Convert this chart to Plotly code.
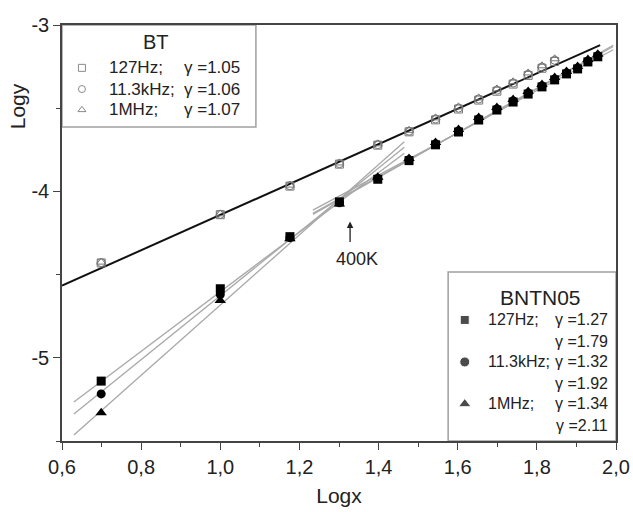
import plotly.graph_objects as go

# ---------------- data ----------------
x_bt = [0.699, 1.0, 1.176, 1.301, 1.398, 1.477, 1.544, 1.602, 1.653, 1.699, 1.740, 1.778, 1.813, 1.845]
y_bt_127 = [-4.430, -4.140, -3.968, -3.836, -3.722, -3.642, -3.570, -3.505, -3.451, -3.398, -3.355, -3.303, -3.260, -3.219]
y_bt_11k = [-4.428, -4.138, -3.966, -3.833, -3.719, -3.638, -3.565, -3.500, -3.445, -3.392, -3.349, -3.297, -3.253, -3.212]
y_bt_1M = [-4.425, -4.135, -3.962, -3.829, -3.714, -3.633, -3.558, -3.492, -3.438, -3.384, -3.341, -3.288, -3.245, -3.203]

x_bn = [0.699, 1.0, 1.176, 1.301, 1.398, 1.477, 1.544, 1.602, 1.653, 1.699, 1.740, 1.778, 1.813, 1.845, 1.875, 1.903, 1.929, 1.954]
y_bn_127 = [-5.140, -4.585, -4.272, -4.063, -3.927, -3.815, -3.720, -3.643, -3.571, -3.511, -3.463, -3.415, -3.372, -3.330, -3.294, -3.264, -3.222, -3.191]
y_bn_11k = [-5.217, -4.620, -4.278, -4.068, -3.922, -3.810, -3.714, -3.637, -3.565, -3.505, -3.457, -3.409, -3.366, -3.324, -3.288, -3.258, -3.216, -3.185]
y_bn_1M = [-5.330, -4.655, -4.285, -4.075, -3.915, -3.802, -3.706, -3.628, -3.556, -3.496, -3.448, -3.400, -3.357, -3.315, -3.279, -3.249, -3.207, -3.176]

# fit lines (slope gamma)
bt_fit_x = [0.6, 1.96]
bt_fit_slope = 1.063
bt_fit_icpt = -5.204

low_fit_x = [0.63, 1.465]
low_gammas = [1.79, 1.92, 2.11]
low_icpts = [-6.393, -6.547, -6.793]

high_fit_x = [1.234, 1.993]
high_gammas = [1.27, 1.32, 1.34]
high_anchor = (1.6, -3.648)

x_ticks = [0.6, 0.8, 1.0, 1.2, 1.4, 1.6, 1.8, 2.0]
x_ticktext = ["0,6", "0,8", "1,0", "1,2", "1,4", "1,6", "1,8", "2,0"]
y_ticks = [-5, -4, -3]
y_ticktext = ["-5", "-4", "-3"]

bt_names = ["127Hz;", "11.3kHz;", "1MHz;"]
bt_gam = ["\u03b3 =1.05", "\u03b3 =1.06", "\u03b3 =1.07"]
bn_names = ["127Hz;", "11.3kHz;", "1MHz;"]
bn_gam = ["\u03b3 =1.27", "\u03b3 =1.79", "\u03b3 =1.32", "\u03b3 =1.92", "\u03b3 =1.34", "\u03b3 =2.11"]

FONT = "Arial, Liberation Sans, sans-serif"
TXT = "#222222"

fig = go.Figure()

# fit lines
for g, c in zip(low_gammas, low_icpts):
    fig.add_trace(go.Scatter(x=low_fit_x, y=[c + g * xx for xx in low_fit_x], mode="lines",
                             line=dict(color="#a8a8a8", width=1.3), showlegend=False, hoverinfo="skip"))
for g in high_gammas:
    fig.add_trace(go.Scatter(x=high_fit_x, y=[high_anchor[1] + g * (xx - high_anchor[0]) for xx in high_fit_x],
                             mode="lines", line=dict(color="#a8a8a8", width=1.3), showlegend=False, hoverinfo="skip"))
fig.add_trace(go.Scatter(x=bt_fit_x, y=[bt_fit_icpt + bt_fit_slope * xx for xx in bt_fit_x], mode="lines",
                         line=dict(color="#111111", width=2), showlegend=False, hoverinfo="skip"))

# BT open symbols
open_col = "#777777"
for yy, sym in [(y_bt_127, "square-open"), (y_bt_11k, "circle-open"), (y_bt_1M, "triangle-up-open")]:
    fig.add_trace(go.Scatter(x=x_bt, y=yy, mode="markers",
                             marker=dict(symbol=sym, size=8, color=open_col, line=dict(width=1, color=open_col)),
                             showlegend=False))

# BNTN05 filled symbols
for yy, sym, sz in [(y_bn_127, "square", 9), (y_bn_11k, "circle", 9), (y_bn_1M, "triangle-up", 10)]:
    fig.add_trace(go.Scatter(x=x_bn, y=yy, mode="markers",
                             marker=dict(symbol=sym, size=sz, color="#000000", line=dict(width=0)),
                             showlegend=False))

# ---------- legend boxes (paper coords) ----------
bt_box = dict(x0=0.0, x1=0.350, y0=0.755, y1=1.0)
bn_box = dict(x0=0.697, x1=1.0, y0=0.0, y1=0.406)
for b in (bt_box, bn_box):
    fig.add_shape(type="rect", xref="paper", yref="paper", **b,
                  line=dict(color="#a0a0a0", width=1.5), fillcolor="white", layer="below")

bt_rows = [0.897, 0.846, 0.796]
bn_rows = [0.291, 0.240, 0.190, 0.139, 0.089, 0.038]

# legend symbols on overlay axes (0..1 == plot area)
fig.add_trace(go.Scatter(x=[0.036] * 3, y=bt_rows, xaxis="x2", yaxis="y2", mode="markers",
                         marker=dict(symbol=["square-open", "circle-open", "triangle-up-open"], size=7,
                                     color="#8a8a8a", line=dict(width=1, color="#8a8a8a")),
                         showlegend=False, hoverinfo="skip", cliponaxis=False))
fig.add_trace(go.Scatter(x=[0.727] * 3, y=[bn_rows[0], bn_rows[2], bn_rows[4]], xaxis="x2", yaxis="y2",
                         mode="markers",
                         marker=dict(symbol=["square", "circle", "triangle-up"], size=[9, 10, 11], color="#000000"),
                         showlegend=False, hoverinfo="skip", cliponaxis=False))


def txt(text, x, y, size, xanchor="center", **kw):
    d = dict(text=text, x=x, y=y, xref="paper", yref="paper", xanchor=xanchor, yanchor="middle",
             showarrow=False, font=dict(size=size, color=TXT, family=FONT))
    d.update(kw)
    return d


ann = []
ann.append(txt("BT", 0.170, 0.959, 20))
for i in range(3):
    ann.append(txt(bt_names[i], 0.081, bt_rows[i], 17, "left"))
    ann.append(txt(bt_gam[i], 0.325, bt_rows[i], 17, "right"))
ann.append(txt("BNTN05", 0.863, 0.346, 21))
for i in range(3):
    ann.append(txt(bn_names[i], 0.765, bn_rows[2 * i], 16, "left"))
for i in range(6):
    ann.append(txt(bn_gam[i], 0.989, bn_rows[i], 16, "right"))

# 400K arrow
ann.append(dict(text="", x=1.328, y=-4.181, xref="x", yref="y", showarrow=True, ax=0, ay=22,
                arrowhead=2, arrowsize=1, arrowwidth=1.3, arrowcolor="#222222"))
ann.append(dict(text="400K", x=1.345, y=-4.404, xref="x", yref="y", xanchor="center", yanchor="middle",
                showarrow=False, font=dict(size=18, color=TXT, family=FONT)))
# Logy title
ann.append(txt("Logy", -0.081, 0.805, 21, "center", textangle=-90))

fig.update_layout(
    width=633, height=512,
    margin=dict(l=62, r=17, t=25, b=71, autoexpand=False),
    paper_bgcolor="white", plot_bgcolor="white",
    showlegend=False,
    annotations=ann,
    font=dict(family=FONT, color=TXT),
    xaxis=dict(range=[0.6, 2.0], tickvals=x_ticks, ticktext=x_ticktext, showgrid=False, zeroline=False,
               showline=True, mirror=True, linecolor="#444444", linewidth=1.5, automargin=False,
               ticks="outside", ticklen=7, tickwidth=1.3, tickcolor="#444444",
               minor=dict(dtick=0.1, tick0=0.6, ticks="outside", ticklen=4, tickwidth=1.2, tickcolor="#444444"),
               tickfont=dict(size=20, color=TXT, family=FONT),
               title=dict(text="Logx", font=dict(size=21, color=TXT, family=FONT), standoff=12)),
    yaxis=dict(range=[-5.5, -3.0], tickvals=y_ticks, ticktext=y_ticktext, showgrid=False, zeroline=False,
               showline=True, mirror=True, linecolor="#444444", linewidth=1.5, automargin=False,
               ticks="outside", ticklen=7, tickwidth=1.3, tickcolor="#444444",
               minor=dict(dtick=0.5, tick0=-5.5, ticks="outside", ticklen=4, tickwidth=1.2, tickcolor="#444444"),
               tickfont=dict(size=20, color=TXT, family=FONT)),
    xaxis2=dict(overlaying="x", range=[0, 1], visible=False, fixedrange=True),
    yaxis2=dict(overlaying="y", range=[0, 1], visible=False, fixedrange=True),
)

fig.write_html("out.html")
